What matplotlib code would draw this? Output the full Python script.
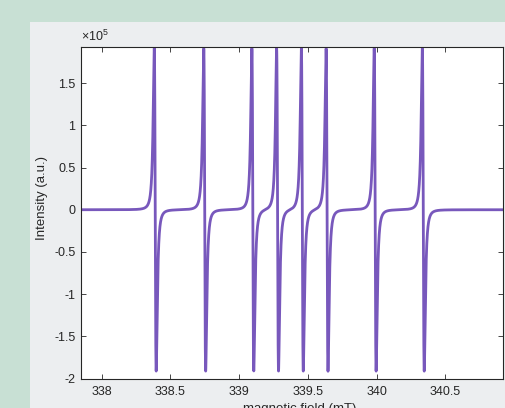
import numpy as np
import matplotlib
matplotlib.use("Agg")
import matplotlib.pyplot as plt
from matplotlib.patches import Rectangle
from matplotlib.ticker import FuncFormatter, FixedLocator

# ---- data ----
line_positions = [338.39, 338.75, 339.10, 339.28, 339.46, 339.64, 339.99, 340.34]  # mT
line_amplitudes = [1.91e5, 1.91e5, 1.91e5, 1.91e5, 1.91e5, 1.91e5, 1.91e5, 1.91e5]  # peak height
line_width = 0.012  # mT, Lorentzian half width
field_range = [337.85, 340.92]
y_range = [-2.0e5, 1.93e5]
x_ticks = [338, 338.5, 339, 339.5, 340, 340.5]
y_ticks = [-2e5, -1.5e5, -1e5, -0.5e5, 0, 0.5e5, 1e5, 1.5e5]
x_label = "magnetic field (mT)"
y_label = "Intensity (a.u.)"

# ---- spectrum: sum of first-derivative Lorentzians ----
B = np.linspace(field_range[0], field_range[1], 60000)
signal = np.zeros_like(B)
norm = (1 / np.sqrt(3)) / (1 + 1 / 3) ** 2
for b0, amp in zip(line_positions, line_amplitudes):
    x = (B - b0) / line_width
    signal += -amp * x / (1 + x ** 2) ** 2 / norm

W, H = 505, 408
fig = plt.figure(figsize=(W / 100, H / 100), dpi=100)
fig.patch.set_facecolor("#c8e0d4")
panel = Rectangle((30 / W, 0), 1, (H - 22) / H, transform=fig.transFigure,
                  facecolor="#eceef0", edgecolor="none", zorder=-10)
fig.add_artist(panel)

font = "Liberation Sans"
ax = fig.add_axes([81 / W, (H - 378.7) / H, (503 - 81) / W, (378.7 - 46.7) / H])
ax.set_zorder(5)
ax.set_facecolor("white")
ax.plot(B, signal, color="#7858bc", lw=2.0, solid_joinstyle="round")
ax.set_xlim(field_range)
ax.set_ylim(y_range)
ax.xaxis.set_major_locator(FixedLocator(x_ticks))
ax.yaxis.set_major_locator(FixedLocator(y_ticks))
ax.xaxis.set_major_formatter(FuncFormatter(lambda v, p: f"{v:g}"))
ax.yaxis.set_major_formatter(FuncFormatter(lambda v, p: f"{v / 1e5:g}"))
ax.tick_params(direction="in", top=True, right=True, length=3.5, width=0.6,
               colors="#262626", labelsize=9)
ax.tick_params(axis="x", pad=5.5)
ax.tick_params(axis="y", pad=4)
for lab in ax.get_xticklabels() + ax.get_yticklabels():
    lab.set_fontfamily(font)
for s in ax.spines.values():
    s.set_color("#262626")
    s.set_linewidth(0.8)

fig.text(81 / W, (H - 41) / H, r"$\mathregular{\times10^{5}}$", fontsize=9,
         family=font, color="#262626", va="baseline", ha="left", zorder=6)
fig.text(42 / W, (H - 198) / H, y_label, rotation=90, fontsize=9.5, family=font,
         color="#262626", ha="center", va="center", zorder=6)
fig.text(300 / W, (H - 403) / H, x_label, fontsize=9.5, family=font,
         color="#262626", ha="center", va="top", zorder=6)

fig.savefig("out.png", dpi=100, facecolor=fig.get_facecolor())
